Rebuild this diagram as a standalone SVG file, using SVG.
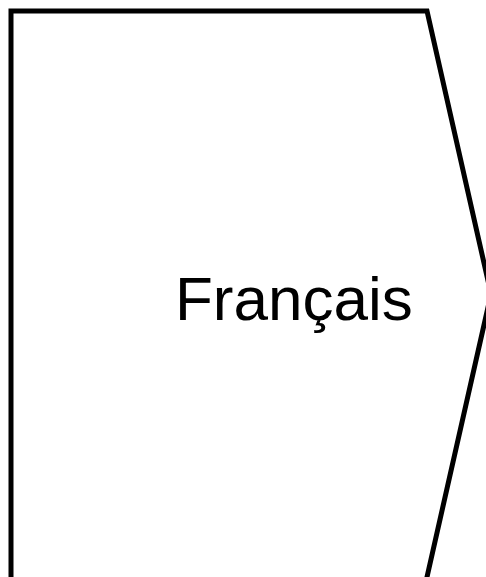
<svg xmlns="http://www.w3.org/2000/svg" width="486" height="577" viewBox="0 0 486 577">
<style>
.shape{fill:#ffffff;stroke:#000000;stroke-width:5;stroke-linejoin:miter}
.label{font-family:"Liberation Sans",Arial,sans-serif;font-size:62px;fill:#000000}
</style>
<rect width="486" height="577" fill="#ffffff"/>
<g id="node-francais">
<path class="shape" d="M11,600 V11 H427 L491,294 L427,577 L422,600"/>
<text class="label" x="175" y="320">Français</text>
</g>
<g id="connectors"/>
</svg>
